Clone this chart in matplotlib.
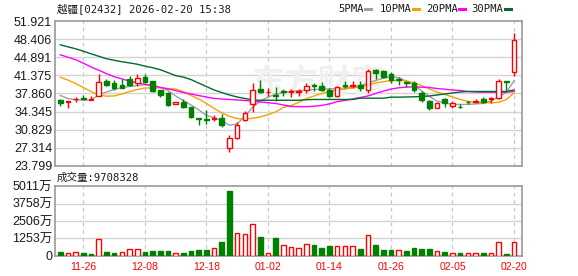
import matplotlib
matplotlib.use('Agg')
import matplotlib.pyplot as plt
from matplotlib.patches import Rectangle
from matplotlib.lines import Line2D

plt.rcParams['font.family'] = ['Liberation Sans', 'Noto Sans CJK SC', 'DejaVu Sans']

title = "越疆[02432] 2026-02-20 15:38"

opens = [36.64, 36.12, 36.70, 36.96, 36.58, 37.47, 40.36, 39.98, 39.59, 40.68,
         39.85, 41.07, 40.30, 38.50, 37.86, 35.81, 36.25, 35.16, 33.17, 32.91,
         32.91, 33.17, 27.20, 29.32, 32.72, 35.74, 38.76, 38.18, 37.60, 38.44,
         38.11, 38.24, 38.50, 39.59, 39.34, 38.50, 37.47, 39.46, 39.27, 39.59,
         38.57, 42.48, 42.23, 41.71, 40.75, 40.11, 39.91, 37.99, 36.45, 35.10,
         36.70, 35.36, 35.29, 36.25, 36.12, 36.70, 36.70, 36.90, 40.30, 42.03]
highs = [36.83, 36.32, 37.09, 37.60, 37.34, 41.65, 40.68, 40.56, 40.68, 41.33,
         41.71, 41.65, 40.36, 38.63, 38.12, 36.30, 36.70, 35.29, 33.20, 34.58,
         33.62, 33.81, 29.83, 32.34, 34.39, 39.91, 40.43, 38.95, 39.14, 38.82,
         38.76, 38.76, 39.91, 39.91, 40.17, 38.95, 39.40, 40.30, 40.36, 40.36,
         42.61, 42.68, 42.35, 41.97, 41.00, 40.23, 40.23, 38.44, 36.58, 36.19,
         36.96, 36.32, 35.81, 36.45, 36.77, 37.09, 37.09, 40.68, 40.36, 49.55]
lows = [35.42, 35.03, 36.25, 36.58, 36.55, 37.34, 39.40, 38.63, 38.89, 39.27,
        39.27, 39.91, 38.12, 37.09, 35.36, 35.75, 35.10, 33.04, 31.82, 31.89,
        32.53, 31.44, 26.56, 28.99, 32.47, 34.26, 37.99, 37.47, 36.38, 37.28,
        37.22, 37.34, 37.86, 38.37, 38.37, 37.15, 37.09, 39.02, 38.95, 38.31,
        37.99, 40.75, 40.88, 39.91, 39.46, 39.21, 38.12, 36.19, 34.65, 35.03,
        35.29, 35.03, 35.10, 35.81, 36.06, 36.06, 35.93, 36.70, 38.50, 41.20]
closes = [36.00, 36.32, 36.83, 36.77, 36.70, 40.11, 39.59, 38.89, 39.02, 39.53,
          40.81, 40.17, 38.31, 37.54, 35.55, 36.25, 35.29, 33.24, 32.85, 32.72,
          33.17, 31.69, 29.19, 31.69, 34.14, 38.57, 38.12, 38.24, 37.34, 38.11,
          38.37, 38.44, 39.40, 39.27, 38.63, 37.47, 39.14, 39.27, 39.46, 38.95,
          42.29, 41.84, 41.07, 40.43, 40.50, 39.98, 38.50, 36.58, 35.03, 36.06,
          35.93, 35.99, 35.16, 36.12, 36.38, 36.19, 37.02, 40.36, 40.11, 48.20]
volumes_wan = [219, 170, 270, 146, 97, 1168, 219, 146, 270, 486,
               486, 219, 292, 292, 292, 146, 146, 292, 365, 365,
               511, 949, 4670, 1654, 1581, 2311, 1314, 146, 1240, 778,
               584, 511, 850, 730, 535, 657, 657, 657, 657, 462,
               1508, 730, 365, 365, 365, 292, 535, 438, 438, 292,
               219, 146, 146, 146, 146, 146, 146, 949, 73, 970.8]
ma5 = [37.47, 36.90, 36.65, 36.57, 36.61, 37.57, 38.15, 38.63, 39.02, 39.21,
       39.40, 39.54, 39.40, 39.02, 38.44, 37.38, 36.51, 35.64, 34.68, 33.62,
       33.14, 32.56, 31.70, 31.98, 33.43, 35.16, 36.38, 37.19, 37.67, 38.05,
       38.24, 38.38, 38.53, 38.63, 38.73, 38.76, 38.82, 38.96, 39.11, 39.40,
       39.88, 40.36, 40.85, 41.08, 40.94, 40.27, 39.50, 38.34, 37.28, 36.38,
       36.03, 35.74, 35.74, 35.74, 35.84, 35.93, 36.42, 37.19, 38.05, 40.36]
ma10 = [41.00, 40.46, 39.79, 39.02, 38.24, 37.57, 37.34, 37.38, 37.76, 38.24,
        38.63, 38.92, 38.96, 38.96, 38.82, 38.73, 38.24, 37.47, 36.80, 35.93,
        34.97, 34.10, 33.43, 32.99, 32.95, 33.04, 33.33, 33.72, 34.29, 35.16,
        35.55, 36.13, 36.90, 37.38, 37.86, 38.24, 38.53, 38.73, 38.92, 39.21,
        39.59, 39.88, 40.17, 40.33, 40.40, 40.27, 39.98, 39.40, 38.73, 38.15,
        37.67, 37.19, 36.70, 36.36, 36.16, 36.07, 36.07, 36.13, 36.70, 37.96]
ma20 = [45.37, 44.89, 44.41, 43.74, 43.00, 42.39, 41.71, 41.13, 40.69, 40.27,
        39.92, 39.63, 39.40, 39.05, 38.76, 38.43, 38.05, 37.76, 37.47, 37.18,
        36.90, 36.80, 36.70, 36.61, 36.51, 36.36, 36.22, 36.07, 35.93, 35.64,
        35.35, 35.32, 35.30, 35.39, 35.55, 35.84, 36.28, 36.51, 36.80, 37.09,
        37.38, 37.86, 38.30, 38.73, 38.96, 39.11, 39.15, 39.09, 39.02, 38.82,
        38.69, 38.53, 38.44, 38.25, 38.15, 38.11, 38.11, 38.11, 38.11, 38.25]
ma30 = [47.30, 46.91, 46.53, 46.05, 45.56, 45.08, 44.60, 44.31, 44.02, 43.79,
        43.54, 43.16, 42.87, 42.48, 41.90, 41.33, 41.04, 40.56, 39.88, 39.21,
        38.54, 38.05, 37.57, 37.18, 36.90, 36.61, 36.55, 36.55, 36.55, 36.55,
        36.55, 36.55, 36.65, 36.70, 36.70, 36.70, 36.70, 36.70, 36.70, 36.95,
        36.95, 36.95, 36.95, 37.15, 37.15, 37.18, 37.22, 37.28, 37.38, 37.57,
        37.76, 37.96, 38.15, 38.25, 38.25, 38.25, 38.25, 38.25, 38.25, 38.54]

date_tick_idx = [3, 11, 19, 27, 35, 43, 51, 59]
date_labels = ["11-26", "12-08", "12-18", "01-02", "01-14", "01-26", "02-05", "02-20"]
price_ticks = [23.799, 27.314, 30.829, 34.345, 37.860, 41.375, 44.891, 48.406, 51.921]
vol_ticks = [0, 1253, 2506, 3758, 5011]
vol_tick_labels = ["0", "1253万", "2506万", "3758万", "5011万"]
last_volume = 9708328
ma_names = ["5PMA", "10PMA", "20PMA", "30PMA"]

RED = '#ff0000'
GREEN = '#008000'
MA_COLORS = ['#a0a0a0', '#f5a300', '#ff00ff', '#006a2c']
GRID = '#d4d4d4'
SPINE = '#9a9a9a'
TXT = '#1a1a1a'

W, H = 578, 276
fig = plt.figure(figsize=(W / 100, H / 100), dpi=100)
fig.patch.set_facecolor('white')


def fy(y):
    return 1 - y / H


L, R = 55, 522
ax = fig.add_axes([L / W, fy(166), (R - L) / W, (166 - 21) / H])
axv = fig.add_axes([L / W, fy(255.5), (R - L) / W, (255.5 - 186.3) / H])

n = len(closes)
xs = list(range(n))
bw = 0.6

for a in (ax, axv):
    a.set_xlim(-0.69, n + 0.04)
    for s in a.spines.values():
        s.set_color(SPINE)
        s.set_linewidth(1.2)
    for t in date_tick_idx:
        a.axvline(t, color='#c8c8c8', lw=0.9, ls=(0, (3, 3)), zorder=0)
    a.tick_params(length=0)

ax.set_ylim(price_ticks[0], price_ticks[-1])
ax.set_yticks(price_ticks)
ax.set_yticklabels([f"{v:.3f}" for v in price_ticks], fontsize=9, color=TXT)
ax.tick_params(axis='y', pad=2)
ax.set_xticks([])
for v in price_ticks[1:-1]:
    ax.axhline(v, color=GRID, lw=1.0, zorder=0)

# watermark
ax.text(33.5, 39.6, "东方财富", fontsize=24, color='#f0f0f0', ha='center', va='center',
        family=['Noto Sans CJK SC'], fontweight='bold', zorder=0.5, style='italic')

# moving averages
for vals, col in zip([ma5, ma10, ma20, ma30], MA_COLORS):
    ax.plot(xs, vals, color=col, lw=1.0, zorder=2)

# candles
for i in xs:
    o, h, l, c = opens[i], highs[i], lows[i], closes[i]
    up = c >= o
    col = RED if up else GREEN
    ax.plot([i, i], [l, h], color=col, lw=1.0, zorder=3, solid_capstyle='butt')
    bot = min(o, c)
    ht = max(abs(c - o), 0.06)
    ax.add_patch(Rectangle((i - bw / 2, bot), bw, ht,
                           facecolor='white' if up else GREEN,
                           edgecolor=col, lw=1.0, zorder=4))

# volume
axv.set_ylim(0, vol_ticks[-1])
axv.set_yticks(vol_ticks)
axv.set_yticklabels(vol_tick_labels, fontsize=9, color=TXT)
axv.tick_params(axis='y', pad=2)
for v in vol_ticks[1:-1]:
    axv.axhline(v, color=GRID, lw=1.0, zorder=0)
for i in xs:
    prev = closes[i - 1] if i > 0 else opens[i]
    up = closes[i] >= prev
    col = RED if up else GREEN
    axv.add_patch(Rectangle((i - bw / 2, 0), bw, volumes_wan[i],
                            facecolor='white' if up else GREEN,
                            edgecolor=col, lw=1.0, zorder=3))
axv.set_xticks(date_tick_idx)
axv.set_xticklabels(date_labels, fontsize=7.5, color=RED)
axv.tick_params(axis='x', pad=5)

# title & legend
fig.text(57 / W, fy(9), title, fontsize=7.6, color=TXT, ha='left', va='center',
         family=['DejaVu Sans Mono', 'Noto Sans CJK SC'])
fig.text(57 / W, fy(177.5), f"成交量:{last_volume}", fontsize=7.6, color=TXT,
         ha='left', va='center', family=['DejaVu Sans Mono', 'Noto Sans CJK SC'])

leg_x = [338, 380, 425.7, 471.7]
dash_x = [365, 412.7, 459.3, 505]
for name, col, tx, dx in zip(ma_names, MA_COLORS, leg_x, dash_x):
    fig.text(tx / W, fy(9), name, fontsize=7.6, color=TXT, ha='left', va='center',
             family=['DejaVu Sans Mono'])
    fig.add_artist(Line2D([dx / W, (dx + 6) / W], [fy(9), fy(9)], color=col, lw=2.2,
                          transform=fig.transFigure))

fig.savefig('out.png', dpi=100, facecolor='white')
